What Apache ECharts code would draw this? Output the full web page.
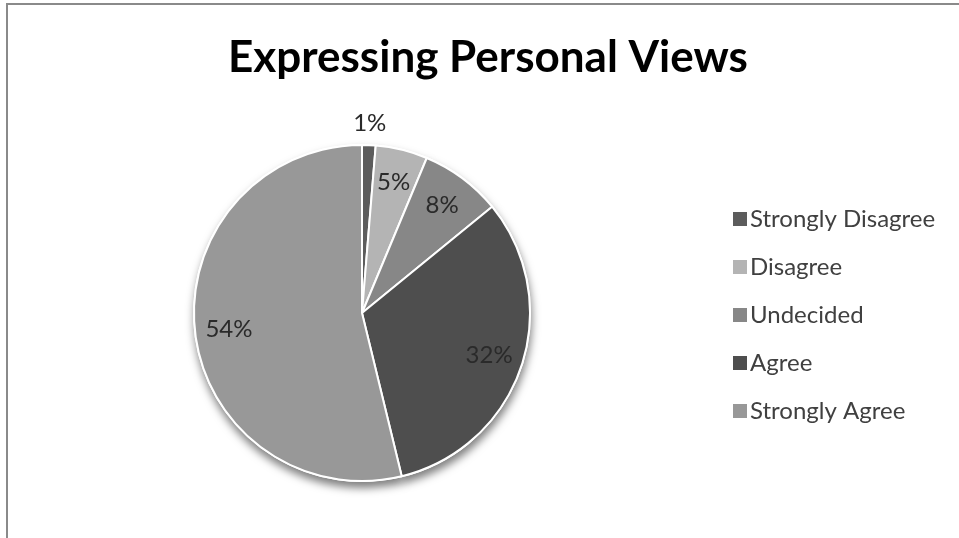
<!DOCTYPE html>
<html>
<head>
<meta charset="utf-8">
<script src="https://cdn.jsdelivr.net/npm/echarts@6/dist/echarts.min.js"></script>
<style>
html,body{margin:0;padding:0;background:#fff;}
#chart{width:959px;height:538px;}
</style>
</head>
<body>
<div id="chart"></div>
<script>
const titleText = 'Expressing Personal Views';
const categories = ['Strongly Disagree', 'Disagree', 'Undecided', 'Agree', 'Strongly Agree'];
const values = [1.3, 5.0, 7.8, 32.1, 53.8];
const sliceColors = ['#5c5c5c', '#b4b4b4', '#878787', '#4e4e4e', '#989898'];

const R = 168;
const center = [362, 313];
const items = categories.map((n, i) => ({ name: n, value: values[i] }));

const chart = echarts.init(document.getElementById('chart'), null, { renderer: 'canvas' });
chart.setOption({
  animation: false,
  backgroundColor: '#ffffff',
  title: {
    text: titleText,
    left: 223,
    top: 31,
    textStyle: { fontFamily: 'Lato', fontWeight: 'bold', fontSize: 44, color: '#000' }
  },
  legend: {
    orient: 'vertical',
    left: 726,
    top: 202,
    itemWidth: 16,
    itemHeight: 16,
    itemGap: 24,
    icon: 'rect',
    data: categories,
    textStyle: { fontFamily: 'Lato', fontSize: 24, color: '#404040', padding: [0, 0, 0, -3], lineHeight: 24 }
  },
  graphic: [{
    type: 'rect', silent: true, z: -10,
    shape: { x: 7, y: 4, width: 2000, height: 2000 },
    style: { fill: 'none', stroke: '#8a8a8a', lineWidth: 2 }
  }],
  series: [
    {
      type: 'pie', name: 'main', z: 3,
      center: center, radius: [0, R],
      startAngle: 90, clockwise: true,
      percentPrecision: 0,
      data: items.map((d, i) => ({ ...d, itemStyle: { color: sliceColors[i] } })),
      itemStyle: { borderColor: '#ffffff', borderWidth: 2 },
      label: { show: false }, labelLine: { show: false },
      emphasis: { disabled: true }
    },
    {
      type: 'pie', name: 'shadow', z: 1, silent: true, legendHoverLink: false,
      center: center, radius: [0, R + 1],
      startAngle: 90, clockwise: true,
      data: items,
      itemStyle: { color: '#ffffff', shadowBlur: 9, shadowOffsetY: 6, shadowOffsetX: 1, shadowColor: 'rgba(0,0,0,0.5)' },
      label: { show: false }, labelLine: { show: false },
      emphasis: { disabled: true }
    },
    {
      type: 'pie', name: 'labelsInner', z: 4, silent: true, legendHoverLink: false,
      center: center, radius: [R * 0.56, R],
      startAngle: 90, clockwise: true,
      percentPrecision: 0,
      data: items.map((d, i) => ({ ...d, label: { show: i !== 0 } })),
      itemStyle: { color: 'rgba(0,0,0,0)' },
      label: { show: true, position: 'inside', formatter: '{d}%', fontFamily: 'Lato', fontSize: 24, color: '#2a2a2a' },
      labelLine: { show: false },
      emphasis: { disabled: true }
    },
    {
      type: 'pie', name: 'labelsOuter', z: 4, silent: true, legendHoverLink: false,
      center: center, radius: [R, R * 1.22],
      startAngle: 90, clockwise: true,
      percentPrecision: 0,
      data: items.map((d, i) => ({ ...d, label: { show: i === 0 } })),
      itemStyle: { color: 'rgba(0,0,0,0)' },
      label: { show: true, position: 'inside', formatter: '{d}%', fontFamily: 'Lato', fontSize: 24, color: '#2a2a2a' },
      labelLine: { show: false },
      emphasis: { disabled: true }
    }
  ]
});
</script>
</body>
</html>
